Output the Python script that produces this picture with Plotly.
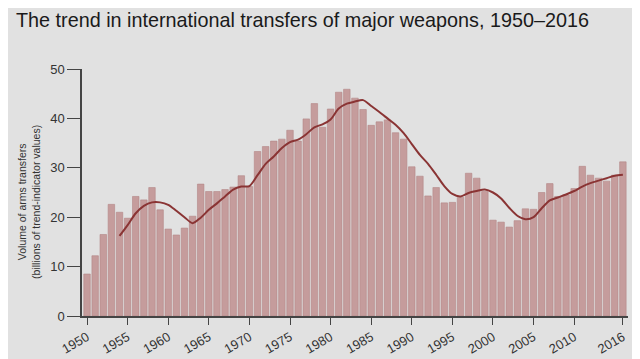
import plotly.graph_objects as go

years = list(range(1950, 2017))
volumes = [
    8.5, 12.2, 16.5, 22.6, 21.0, 19.8, 24.2, 23.5, 26.0, 21.5,
    17.6, 16.4, 17.8, 20.2, 26.7, 25.2, 25.2, 25.6, 26.1, 28.4,
    26.2, 33.3, 34.3, 35.4, 35.8, 37.6, 35.4, 39.9, 43.0, 38.2,
    41.9, 45.3, 45.9, 44.1, 41.8, 38.6, 39.3, 39.7, 37.1, 35.8,
    30.2, 28.3, 24.3, 26.0, 22.9, 23.0, 24.0, 28.9, 27.9, 25.2,
    19.4, 19.0, 18.0, 19.3, 21.7, 21.6, 25.0, 26.8, 24.2, 24.5,
    25.8, 30.3, 28.5, 27.9, 27.3, 28.5, 31.2,
]
trend_years = list(range(1954, 2017))
trend = [
    16.2, 18.4, 20.8, 22.3, 23.0, 23.0, 22.5, 21.3, 20.0, 18.8,
    19.9, 21.5, 22.8, 24.2, 25.6, 26.2, 26.3, 28.5, 30.8, 32.3,
    34.0, 35.2, 35.7, 36.8, 38.2, 38.8, 39.8, 42.0, 43.0, 43.4,
    43.7, 42.5, 41.3, 40.0, 38.7, 37.0, 34.8, 32.6, 30.8, 28.6,
    26.3, 24.7, 24.2, 24.9, 25.3, 25.6, 25.0, 23.8, 21.9, 20.3,
    19.6, 20.0, 21.8, 23.4, 24.0, 24.6, 25.3, 26.2, 26.9, 27.4,
    27.9, 28.4, 28.6,
]
tick_years = [1950, 1955, 1960, 1965, 1970, 1975, 1980, 1985, 1990,
              1995, 2000, 2005, 2010, 2016]
y_ticks = [0, 10, 20, 30, 40, 50]

fig = go.Figure()
fig.add_trace(go.Bar(
    x=years, y=volumes,
    marker=dict(color="#c59c9c", line=dict(color="#b38686", width=0.6)),
    width=0.8,
    hoverinfo="x+y",
))
fig.add_trace(go.Scatter(
    x=trend_years, y=trend, mode="lines",
    line=dict(color="#8a3434", width=2, shape="spline", smoothing=0.8),
))

# page body adds an 8px offset; margins compensate for it
fig.update_layout(
    width=640, height=359,
    paper_bgcolor="#e1e1e1", plot_bgcolor="#e1e1e1",
    margin=dict(l=74, r=20, t=61, b=51, autoexpand=False),
    showlegend=False,
    font=dict(family="Liberation Sans, Arial, sans-serif", color="#333333"),
    title=dict(
        text="The trend in international transfers of major weapons, 1950\u20132016",
        x=8 / 640, xanchor="left", xref="container",
        y=1 - 12 / 359, yref="container", yanchor="middle",
        font=dict(size=19.8, color="#1a1a1a"),
    ),
)

fig.update_xaxes(
    range=[1949.38, 2016.63], automargin=False,
    tickmode="array", tickvals=tick_years, ticktext=[str(t) for t in tick_years],
    tickangle=-30, ticks="outside", ticklen=7, tickcolor="#444444",
    showline=True, linecolor="#444444", linewidth=1.5,
    showgrid=False, zeroline=False,
    tickfont=dict(size=13, color="#333333"),
)
fig.update_yaxes(
    range=[0, 50], automargin=False,
    tickmode="array", tickvals=y_ticks,
    ticks="outside", ticklen=13, tickcolor="#444444",
    showline=True, linecolor="#444444", linewidth=1.5,
    showgrid=False, zeroline=False,
    tickfont=dict(size=13, color="#333333"),
)
fig.add_annotation(
    text="Volume of arms transfers<br>(billions of trend-indicator values)",
    textangle=-90, xref="paper", yref="paper",
    x=-(82 - 29.5) / 546, y=0.46, xanchor="center", yanchor="middle",
    showarrow=False, font=dict(size=10.5, color="#333333"),
)

fig.write_html("out.html")
